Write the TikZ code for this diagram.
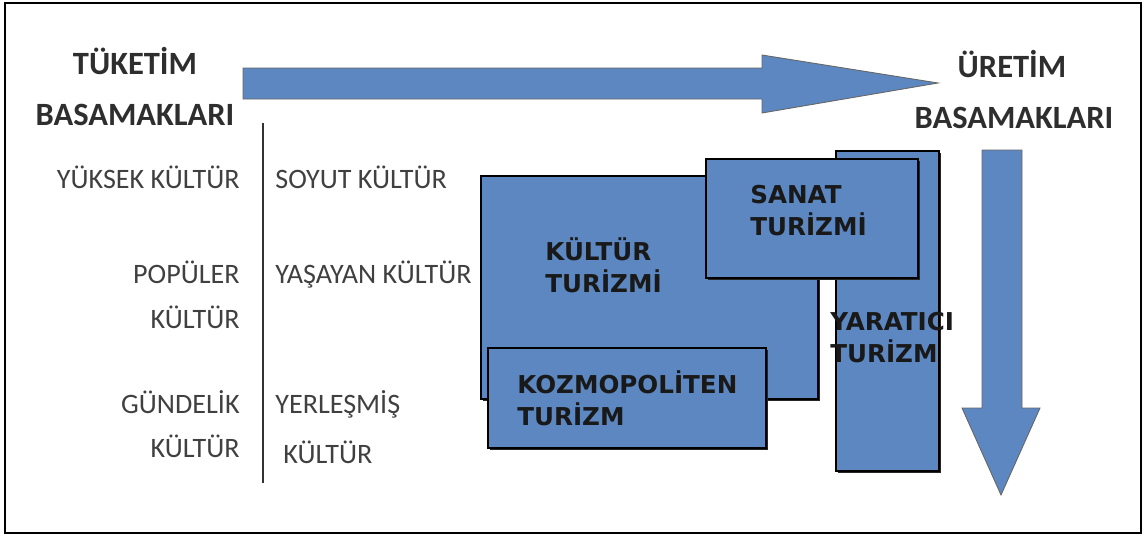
\documentclass[tikz,border=0pt]{standalone}
\usepackage{fontspec}
\setmainfont{Carlito}
\newfontfamily\boxfont{DejaVu Sans}
\usepackage{tikz}
\usetikzlibrary{shadows,positioning}
\definecolor{boxblue}{RGB}{92,135,192}
\tikzstyle{tbox} =
  [rectangle, draw=black, line width=1.1pt, fill=boxblue, anchor=north west,
   drop shadow={shadow xshift=1.2pt, shadow yshift=-1.2pt, fill=black!85, opacity=1}]
\tikzstyle{bigarrow} = [draw=black!60, fill=boxblue, line width=0.5pt]
\tikzstyle{title} = [inner sep=0pt, anchor=base, text=black!82, font=\fontsize{18.5}{22}\selectfont\bfseries]
\tikzstyle{lev} = [inner sep=0pt, text=black!75, font=\fontsize{16}{19}\selectfont]
\tikzstyle{boxtext} = [inner sep=0pt, anchor=base west, text=black!90, font=\boxfont\fontsize{14}{17}\selectfont\bfseries]

\begin{document}
\begin{tikzpicture}[x=0.02cm, y=-0.02cm]
  \useasboundingbox (0,0) rectangle (1146,535);
  \draw [line width=1.2pt] (5,3) rectangle (1141,533);

  % block arrows
  \draw [bigarrow] (243,68) -- (762,68) -- (762,55) -- (938,83) -- (762,113)
    -- (762,99) -- (243,99) -- cycle;
  \draw [bigarrow] (982,150) -- (1022,150) -- (1022,408) -- (1040,408)
    -- (1001,495) -- (962,408) -- (982,408) -- cycle;

  \node [title] (t1) at (135,74) {TÜKETİM};
  \node [title] (t2) at (135,125) {BASAMAKLARI};
  \node [title] (u1) at (1012,77) {ÜRETİM};
  \node [title] (u2) at (1014,128) {BASAMAKLARI};

  % levels
  \coordinate (top) at (263,123);
  \coordinate (bot) at (263,483);
  \draw [line width=1.4pt, black!80] (top) -- (bot);
  \node [lev, anchor=base east] (a1) at (240,188) {YÜKSEK KÜLTÜR};
  \node [lev, anchor=base east] (a2) at (240,283) {POPÜLER};
  \node [lev, anchor=base east] (a3) at (240,328) {KÜLTÜR};
  \node [lev, anchor=base east] (a4) at (240,413) {GÜNDELİK};
  \node [lev, anchor=base east] (a5) at (240,457) {KÜLTÜR};
  \node [lev, anchor=base west] (b1) at (275,188) {SOYUT KÜLTÜR};
  \node [lev, anchor=base west] (b2) at (275,283) {YAŞAYAN KÜLTÜR};
  \node [lev, anchor=base west] (b3) at (275,413) {YERLEŞMİŞ};
  \node [lev, anchor=base west] (b4) at (283,463) {KÜLTÜR};

  % tourism boxes
  \node [tbox, minimum width=2.06cm, minimum height=6.4cm] (yar) at (835,150) {};
  \node [tbox, minimum width=6.74cm, minimum height=4.46cm] (kul) at (480,175) {};
  \node [tbox, minimum width=4.24cm, minimum height=2.38cm] (san) at (705,158) {};
  \node [tbox, minimum width=5.56cm, minimum height=2.0cm] (koz) at (487,347) {};

  \node [boxtext] (k1) at (545,260) {KÜLTÜR};
  \node [boxtext] (k2) at (545,292) {TURİZMİ};
  \node [boxtext] (s1) at (750,203) {SANAT};
  \node [boxtext] (s2) at (750,235) {TURİZMİ};
  \node [boxtext] (z1) at (517,393) {KOZMOPOLİTEN};
  \node [boxtext] (z2) at (517,425) {TURİZM};
  \node [boxtext] (y1) at (830,330) {YARATICI};
  \node [boxtext] (y2) at (830,362) {TURİZM};
\end{tikzpicture}
\end{document}
